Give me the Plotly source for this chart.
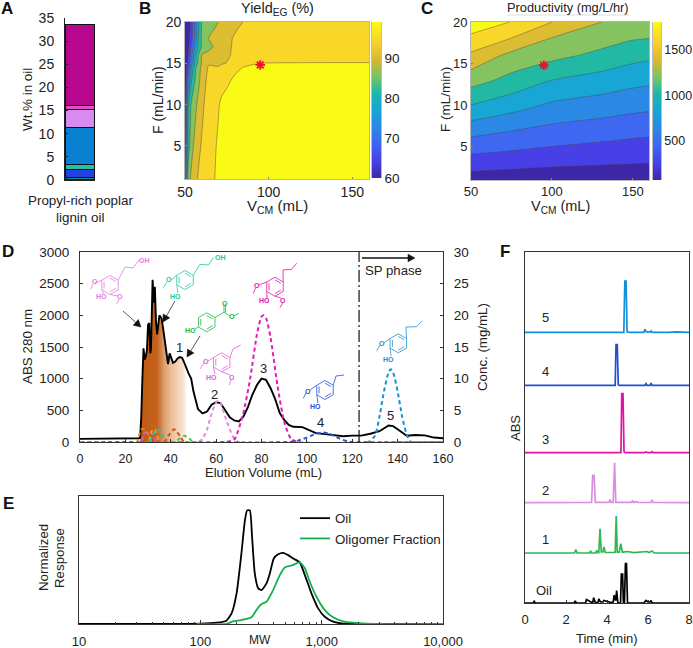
import math
import plotly.graph_objects as go

W, H = 693, 648
FONT = "Liberation Sans, Arial, sans-serif"
INK = "#222222"

# ---------- Panel A ----------
a_names = ["s1", "s2", "s3", "s4", "s5", "s6", "s7", "s8"]
a_values = [0.1, 0.35, 1.9, 0.95, 8.1, 3.8, 0.85, 17.5]
a_colors = ["#F2F20F", "#138A8A", "#2142E0", "#1FC2A5", "#0A80D2", "#D68AF2", "#E24FC4", "#B8078F"]

# ---------- Panel B ----------
b_v = [50, 52, 54, 56, 58, 60, 62, 64, 66, 68, 70, 72, 75, 78, 81, 85, 90, 95, 100, 160]
b_f = [1, 5, 10, 13, 14.5, 15, 16, 17, 18, 20]
b_z = [
    [70, 86.5, 89, 90.8, 92.4, 92.9, 93.3, 94.5, 95.2, 96.1, 96.8, 97, 98, 98, 98, 98, 98, 98, 98, 98],
    [65, 82, 87, 89, 91, 92.4, 93, 94, 95, 95.7, 96.6, 97, 98, 98, 98, 98, 98, 98, 98, 98],
    [62, 80, 85, 87, 89, 91, 92.4, 93, 94, 95, 95.7, 96.8, 97.5, 98, 98, 98, 98, 98, 98, 98],
    [60.5, 72, 80, 84, 87, 89.5, 91.6, 92.8, 93.2, 93.6, 94, 94.5, 95.2, 96.1, 97, 97.5, 97.8, 98, 98, 98],
    [60, 68, 77, 83, 86.5, 88.8, 90.8, 92.3, 92.4, 92.2, 92.2, 93, 94, 94.8, 95.3, 96.1, 96.5, 97, 97.2, 97.2],
    [60, 66, 74, 81, 85, 88.3, 90, 91.7, 91.6, 91.5, 91.5, 91.7, 92.1, 93, 94, 95, 95.7, 96, 96.05, 96.1],
    [60, 64, 71, 79, 84, 88, 89, 89.5, 90, 90.2, 90.5, 90.8, 91.5, 92.2, 93, 94, 94.5, 95, 95, 95],
    [60, 63, 69, 76, 81, 84.5, 85.5, 86.5, 87.6, 88.6, 89.5, 90.2, 91, 92.1, 93, 94, 94.5, 95, 95, 95],
    [60, 62, 67, 73, 80, 84.5, 86.5, 88.1, 88.8, 89.3, 89.8, 90.3, 91, 91.9, 93, 94, 94.5, 95, 95, 95],
    [60, 61, 66, 72, 79, 84.3, 85, 86, 86.6, 87.3, 88.1, 88.6, 89.5, 90.2, 91, 92.1, 93, 93.5, 94, 95],
]
b_ramp = [60, 62, 64, 66, 68, 70, 72, 74, 76, 78, 80, 82, 84, 86, 88, 90, 92, 94, 96, 98, 99]

# ---------- Panel C ----------
c_v = [50, 75, 100, 130, 150, 160]
c_f = [1, 4, 7, 10, 13, 16, 18, 20]
c_z = [
    [155, 140, 126, 128, 130, 130],
    [409, 380, 351, 322, 305, 297],
    [662, 600, 545, 505, 475, 465],
    [936, 840, 739, 688, 650, 636],
    [1185, 1060, 940, 872, 820, 804],
    [1430, 1240, 1168, 1070, 1000, 978],
    [1590, 1455, 1277, 1190, 1125, 1112],
    [1750, 1630, 1462, 1290, 1240, 1230],
]
c_ramp = [70, 150, 250, 350, 450, 550, 650, 750, 850, 950, 1050, 1150, 1250, 1350, 1450, 1550, 1650, 1750, 1808]
star_v, star_fb, star_fc = [95], [14.8], [14.8]

# ---------- Panel D ----------
oil_v = [0, 20, 26, 26.5, 27, 27.5, 28, 28.5, 29, 29.5, 30, 30.5, 31, 31.3, 32, 32.5, 33, 33.5, 34, 35, 36, 37, 38,
         38.8, 39.5, 40, 41, 42, 43, 44, 45, 46, 47, 48, 49, 50, 52, 54, 56, 58, 60, 62, 64, 66, 68, 70, 72, 74,
         76, 78, 80, 82, 84, 86, 88, 90, 92, 94, 98, 100, 104, 108, 112, 116, 120, 124, 128, 132, 136, 138, 140,
         144, 148, 152, 156, 160]
oil_abs = [50, 55, 60, 70, 400, 1000, 1480, 1300, 1350, 1450, 1850, 1880, 1400, 1500, 2560, 2200, 2450, 1900, 1700,
           2000, 1950, 1700, 1450, 1230, 1400, 1350, 1250, 1270, 1320, 1340, 1330, 1250, 1150, 1070, 1000, 800, 520,
           450, 480, 590, 630, 610, 500, 390, 340, 325, 400, 550, 750, 900, 1000, 980, 850, 680, 460, 350, 270, 240,
           235, 200, 140, 125, 105, 90, 100, 100, 130, 170, 260, 250, 200, 100, 110, 105, 70, 60]
fill_end = 47.5
d_series = {
    "c2": ("#E58BE5", [0, 52, 54, 56, 58, 60, 61, 62, 64, 66, 68, 70, 160],
           [0, 0, 0.5, 2, 4.5, 6.3, 6.5, 6.1, 4, 2, 0.5, 0, 0]),
    "c3": ("#E31CB5", [0, 64, 68, 72, 75, 78, 80, 81, 82, 84, 87, 90, 93, 96, 160],
           [0, 0, 0.4, 4.6, 10, 17, 19.8, 20, 19.6, 16.5, 9, 3.2, 0.5, 0, 0]),
    "c4": ("#2257D6", [0, 92, 96, 100, 104, 107, 110, 114, 118, 120, 160],
           [0, 0, 0.2, 0.7, 1.3, 1.5, 1.3, 0.6, 0.1, 0, 0]),
    "c5": ("#1B8FD6", [0, 127, 130, 132, 134, 136, 137, 138, 140, 142, 144, 146, 160],
           [0, 0, 1, 4, 8, 11, 11.5, 11, 8, 4, 1.2, 0, 0]),
    "g1": ("#E8891E", [0, 25, 26, 27, 28.5, 30, 31, 32, 160],
           [0, 0, 1, 2, 2, 1.2, 0.3, 0, 0]),
    "g2": ("#E052D0", [0, 27, 28, 29, 31, 33, 34, 160],
           [0, 0, 1.2, 1.6, 1.6, 0.6, 0, 0]),
    "g3": ("#E8A01E", [0, 30, 31, 32, 33, 34, 35, 160],
           [0, 0, 1, 2, 2, 1, 0, 0]),
    "g4": ("#22C4A4", [0, 30, 32, 34, 36, 38, 160],
           [0, 0, 1, 2, 1.4, 0, 0]),
    "g5": ("#D0522A", [0, 37, 39, 41.5, 44, 46, 160],
           [0, 0, 1, 2, 1, 0, 0]),
    "g6": ("#4FC04F", [0, 42, 44, 46, 48, 50, 160],
           [0, 0, 0.6, 1, 0.6, 0, 0]),
}

# ---------- Panel E ----------
e_oil_mw = [10, 99, 136, 164, 181, 199, 218, 233, 243, 256, 267, 281, 300, 319, 351, 374, 403, 438, 481, 530, 582,
            660, 727, 824, 935, 1061, 1243, 1502, 2337, 10000]
e_oil = [0, 0.003, 0.01, 0.026, 0.083, 0.239, 0.55, 0.81, 0.888, 0.888, 0.68, 0.395, 0.278, 0.265, 0.317, 0.395,
         0.512, 0.545, 0.556, 0.538, 0.512, 0.481, 0.382, 0.239, 0.122, 0.057, 0.018, 0.003, 0, 0]
e_olig_mw = [93, 164, 186, 218, 264, 290, 319, 351, 398, 452, 497, 564, 660, 727, 798, 906, 1061, 1243, 1502, 1816,
             2655, 10000]
e_olig = [0, 0, 0.021, 0.031, 0.052, 0.109, 0.156, 0.174, 0.265, 0.382, 0.442, 0.457, 0.481, 0.436, 0.33, 0.213,
          0.109, 0.052, 0.021, 0.01, 0, 0]

# ---------- Panel F ----------
f_series = [
    ("Oil", "#000000", 0.0,
     [0, 0.4, 0.45, 0.5, 2.4, 2.45, 2.5, 2.95, 3.0, 3.1, 3.3, 3.35, 3.42, 3.55, 3.6, 3.68, 3.8, 3.85, 4.2, 4.3, 4.35, 4.4, 4.43, 4.47, 4.53, 4.66, 4.7, 4.76, 4.8, 4.85, 4.9, 4.95, 5.0, 5.8, 5.9, 6.0, 6.1, 6.15, 6.2, 8],
     [0, 0, 1.6, 0, 0, 2, 0, 0, 3.5, 2.5, 0, 5.3, 1, 0, 4, 1, 1, 2.5, 0.5, 1, 8, 3, 3, 12.5, 0, 0, 29, 29, 0, 0, 39.3, 39.3, 0, 0, 2.5, 1, 1, 2.5, 0, 0]),
    ("1", "#2FB850", 50.0,
     [0, 2.42, 2.48, 2.54, 3.15, 3.2, 3.25, 3.45, 3.5, 3.55, 3.6, 3.66, 3.72, 3.8, 3.85, 3.92, 4.3, 4.4, 4.45, 4.5, 4.6, 4.67, 4.75, 5.0, 5.3, 5.95, 6.05, 6.2, 6.3, 8],
     [0, 0, 3.6, 0, 0, 2, 0, 0, 2.7, 0.3, 0.3, 24.3, 1, 1, 6, 0.5, 0.5, 0.8, 37, 0.8, 0.8, 9.3, 0.8, 1.5, 0.4, 1.5, 0.5, 2, 0, 0]),
    ("2", "#D88FE0", 100.3,
     [0, 2.4, 3.25, 3.3, 3.37, 3.43, 4.1, 4.15, 4.2, 4.3, 4.37, 4.43, 5.2, 5.25, 5.3, 5.45, 5.5, 6.15, 6.2, 6.25, 8],
     [0, 0.2, 0.2, 27.3, 27.3, 0.3, 0.3, 3.3, 0.3, 0.3, 40, 0.3, 0.3, 2.3, 0.3, 1, 0.2, 0.2, 3, 0.2, 0],
     ),
    ("3", "#E010A8", 150.3,
     [0, 4.68, 4.72, 4.78, 4.83, 4.9, 5.8, 5.9, 6.0, 6.15, 6.2, 6.25, 8],
     [0, 0, 59, 59, 1, 0, 0, 0.7, 0, 0, 1, 0, 0]),
    ("4", "#1E50D0", 217.7,
     [0, 4.4, 4.44, 4.5, 4.55, 4.6, 5.85, 5.9, 5.95, 6.1, 6.15, 6.2, 8],
     [0, 0, 40.7, 40.7, 0.5, 0, 0, 1.7, 0, 0, 2.3, 0, 0]),
    ("5", "#1090D8", 270.7,
     [0, 4.82, 4.87, 4.93, 4.98, 5.1, 5.8, 5.85, 5.92, 6.1, 6.15, 6.2, 7, 7.4, 8],
     [0, 0, 51.3, 51.3, 0.5, 0, 0, 3, 0.5, 0.5, 1.3, 0, 0, 0.5, 0]),
]

PARULA = [
    [0.00, "#3E26A8"], [0.11, "#4640E6"], [0.22, "#3E66F2"], [0.33, "#2A88E4"], [0.44, "#18A6D6"],
    [0.55, "#1CB8A8"], [0.65, "#74C666"], [0.75, "#D2B632"], [0.85, "#F7CA30"], [1.00, "#F9FB15"],
]


def fx(x):
    return x / W


def fy(y):
    return 1 - y / H


def dom_x(a, b):
    return [fx(a), fx(b)]


def dom_y(top, bottom):
    return [fy(bottom), fy(top)]


fig = go.Figure()
base = dict(tickfont=dict(family=FONT, size=13.5, color=INK), showgrid=False, zeroline=False)

# ---- A
for name, val, col in zip(a_names, a_values, a_colors):
    fig.add_trace(go.Bar(x=["oil"], y=[val], name=name, width=0.96, marker=dict(color=col, line=dict(color="#111", width=1)),
                         showlegend=False, xaxis="x", yaxis="y"))

# ---- B
fig.add_trace(go.Contour(x=b_v, y=b_f, z=b_z, colorscale=PARULA, zmin=60, zmax=100, showscale=False,
                         contours=dict(start=64, end=96, size=4, coloring="fill"),
                         line=dict(color="rgba(90,80,60,0.7)", width=0.7, smoothing=0.6), xaxis="x2", yaxis="y2"))
fig.add_trace(go.Scatter(x=star_v, y=star_fb, mode="markers", showlegend=False, xaxis="x2", yaxis="y2",
                         marker=dict(symbol="asterisk-open", size=8, color="#E8102A", line=dict(color="#E8102A", width=1.8))))
fig.add_trace(go.Heatmap(x=[0], y=b_ramp, z=[[v] for v in b_ramp], colorscale=PARULA, zmin=60, zmax=99, zsmooth="best",
                         showscale=False, xaxis="x8", yaxis="y8"))

# ---- C
fig.add_trace(go.Contour(x=c_v, y=c_f, z=c_z, colorscale=PARULA, zmin=70, zmax=1810, showscale=False,
                         contours=dict(start=244, end=1636, size=174, coloring="fill"),
                         line=dict(color="rgba(70,70,70,0.6)", width=0.7, smoothing=0.8), xaxis="x3", yaxis="y3"))
fig.add_trace(go.Scatter(x=star_v, y=star_fc, mode="markers", showlegend=False, xaxis="x3", yaxis="y3",
                         marker=dict(symbol="asterisk-open", size=8, color="#E8102A", line=dict(color="#E8102A", width=1.8))))
fig.add_trace(go.Heatmap(x=[0], y=c_ramp, z=[[v] for v in c_ramp], colorscale=PARULA, zmin=70, zmax=1808, zsmooth="best",
                         showscale=False, xaxis="x9", yaxis="y9"))

# ---- D
fill_idx = [i for i, v in enumerate(oil_v) if 26.5 <= v <= fill_end]
fig.add_trace(go.Scatter(x=[oil_v[i] for i in fill_idx], y=[oil_abs[i] for i in fill_idx], mode="none", fill="tozeroy",
                         fillgradient=dict(type="horizontal", start=26.5, stop=fill_end,
                                           colorscale=[[0, "#BF5A12"], [0.355, "#C4621C"], [0.51, "#DDA070"],
                                                       [0.66, "#EDBE98"], [0.89, "#F8E0CC"], [1, "#FFFFFF"]]),
                         showlegend=False, xaxis="x4", yaxis="y4"))
for key, (col, xs, ys) in d_series.items():
    fig.add_trace(go.Scatter(x=xs, y=ys, mode="lines", name=key, showlegend=False, xaxis="x4", yaxis="y7",
                             line=dict(color=col, width=2, dash="4px,3px", shape="spline", smoothing=0.6)))
fig.add_trace(go.Scatter(x=oil_v, y=oil_abs, mode="lines", showlegend=False, xaxis="x4", yaxis="y4",
                         line=dict(color="#000", width=1.9)))
fig.add_shape(type="line", x0=123, x1=123, y0=0, y1=3000, xref="x4", yref="y4",
              line=dict(color="#111", width=1.2, dash="12px,3px,2px,3px"))

# ---- E
fig.add_trace(go.Scatter(x=e_oil_mw, y=e_oil, mode="lines", name="Oil", xaxis="x5", yaxis="y5",
                         line=dict(color="#000", width=1.8, shape="spline", smoothing=0.5)))
fig.add_trace(go.Scatter(x=e_olig_mw, y=e_olig, mode="lines", name="Oligomer Fraction", xaxis="x5", yaxis="y5",
                         line=dict(color="#12B050", width=1.8, shape="spline", smoothing=0.5)))

# ---- F
for name, col, off, ts, hs in f_series:
    fig.add_trace(go.Scatter(x=ts, y=[off + h for h in hs], mode="lines", name=name, showlegend=False, xaxis="x6",
                             yaxis="y6", line=dict(color=col, width=1.7)))

inside = dict(ticks="inside", ticklen=3, tickwidth=0.8)
fig.update_layout(
    template="none",
    width=W, height=H, autosize=False, margin=dict(l=0, r=0, t=0, b=0, pad=0), paper_bgcolor="white", plot_bgcolor="white",
    barmode="stack", font=dict(family=FONT, color=INK),
    legend=dict(x=fx(295), y=fy(503), xanchor="left", yanchor="top", bgcolor="rgba(0,0,0,0)", itemwidth=30,
                font=dict(family=FONT, size=13.3, color=INK), tracegroupgap=0, traceorder="normal"),
    xaxis=dict(domain=dom_x(65, 95), showticklabels=False, ticks="", showline=True, linecolor="#222", linewidth=1, **{k: v for k, v in base.items() if k != "tickfont"}),
    yaxis=dict(domain=dom_y(18, 180), range=[0, 35], dtick=5, showline=True, linecolor="#222", linewidth=1, tickcolor="#222", ticklabelstandoff=7,
               **inside, **{**base, "tickfont": dict(family=FONT, size=14, color=INK)}),
    xaxis2=dict(domain=dom_x(185, 369), anchor="y2", range=[50, 160], tickvals=[50, 100, 150], showline=True, mirror=True,
                linecolor="#b5b5b5", linewidth=0.7, ticklen=2, ticks="inside", tickcolor="#888",
                **{**base, "tickfont": dict(family=FONT, size=14, color=INK)}),
    yaxis2=dict(domain=dom_y(22, 179), anchor="x2", range=[1, 20], tickvals=[5, 10, 15, 20], showline=True, mirror=True,
                linecolor="#b5b5b5", linewidth=0.7, ticklen=2, ticks="inside", tickcolor="#888",
                **{**base, "tickfont": dict(family=FONT, size=14, color=INK)}),
    xaxis8=dict(domain=dom_x(372, 381), anchor="y8", visible=False),
    yaxis8=dict(domain=dom_y(22, 178), anchor="x8", side="right", range=[60, 99], tickvals=[60, 70, 80, 90], ticks="",
                showline=True, mirror=True, linecolor="#bbb", linewidth=0.6,
                **{**base, "tickfont": dict(family=FONT, size=13.5, color=INK)}),
    xaxis3=dict(domain=dom_x(471, 649), anchor="y3", range=[50, 160], tickvals=[50, 100, 150], showline=True, mirror=True,
                linecolor="#b5b5b5", linewidth=0.7, ticklen=2, ticks="inside", tickcolor="#888",
                **{**base, "tickfont": dict(family=FONT, size=13, color=INK)}),
    yaxis3=dict(domain=dom_y(22, 180), anchor="x3", range=[1, 20], tickvals=[5, 10, 15, 20], showline=True, mirror=True,
                linecolor="#b5b5b5", linewidth=0.7, ticklen=2, ticks="inside", tickcolor="#888",
                **{**base, "tickfont": dict(family=FONT, size=13, color=INK)}),
    xaxis9=dict(domain=dom_x(653, 661), anchor="y9", visible=False),
    yaxis9=dict(domain=dom_y(22, 180), anchor="x9", side="right", range=[70, 1808], tickvals=[500, 1000, 1500], ticks="",
                showline=True, mirror=True, linecolor="#bbb", linewidth=0.6,
                **{**base, "tickfont": dict(family=FONT, size=12.5, color=INK)}),
    xaxis4=dict(domain=dom_x(80, 443), anchor="y4", range=[0, 160], dtick=20, showline=True, mirror=True, linecolor="#333", ticklabelstandoff=5,
                linewidth=1, tickcolor="#333", **inside, **{**base, "tickfont": dict(family=FONT, size=12.5, color=INK)}),
    yaxis4=dict(domain=dom_y(252, 442), anchor="x4", range=[0, 3000], dtick=500, showline=True, linecolor="#333", ticklabelstandoff=7,
                linewidth=1, tickcolor="#333", **inside, **base),
    yaxis7=dict(domain=dom_y(252, 442), anchor="x4", overlaying="y4", side="right", range=[0, 30], dtick=5, showline=True, ticklabelstandoff=7,
                linecolor="#333", linewidth=1, tickcolor="#333", **inside, **base),
    xaxis5=dict(domain=dom_x(79, 443), anchor="y5", type="log", range=[1, 4], tickvals=[10, 100, 1000, 10000], ticklabelstandoff=5,
                ticktext=["10", "100", "1,000", "10,000"], showline=True, mirror=True, linecolor="#333", linewidth=1,
                tickcolor="#333", ticks="inside", ticklen=4, tickwidth=0.8,
                minor=dict(ticks="inside", ticklen=2.5, tickcolor="#333", tickwidth=0.7,
                           tickvals=[20, 30, 40, 50, 60, 70, 80, 90, 200, 300, 400, 500, 600, 700, 800, 900,
                                     2000, 3000, 4000, 5000, 6000, 7000, 8000, 9000]),
                **{**base, "tickfont": dict(family=FONT, size=13, color=INK)}),
    yaxis5=dict(domain=dom_y(496, 624), anchor="x5", range=[0, 1], showticklabels=False, ticks="", showline=True, mirror=True,
                linecolor="#333", linewidth=1, showgrid=False, zeroline=False),
    xaxis6=dict(domain=dom_x(525, 689), anchor="y6", range=[0, 8], dtick=2, showline=True, mirror=True, linecolor="#333", ticklabelstandoff=4,
                linewidth=1, tickcolor="#333", **inside, **{**base, "tickfont": dict(family=FONT, size=13, color=INK)}),
    yaxis6=dict(domain=dom_y(252, 603), anchor="x6", range=[0, 351], showticklabels=False, ticks="", showline=True, mirror=True,
                linecolor="#333", linewidth=1, showgrid=False, zeroline=False),
)


def note(x, y, text, size=13, color=INK, angle=0, bold=False, anchor="center"):
    fig.add_annotation(x=fx(x), y=fy(y), xref="paper", yref="paper", text=f"<b>{text}</b>" if bold else text,
                       showarrow=False, textangle=angle, xanchor=anchor, yanchor="middle", align="center",
                       font=dict(family=FONT, size=size, color=color))


def arrow(x0, y0, x1, y1, width=1.0, head=7.0):
    d = math.hypot(x1 - x0, y1 - y0)
    ux, uy = (x1 - x0) / d, (y1 - y0) / d
    bx, by = x1 - ux * head, y1 - uy * head
    fig.add_shape(type="line", x0=fx(x0), y0=fy(y0), x1=fx(bx), y1=fy(by), xref="paper", yref="paper",
                  line=dict(color="#111", width=width))
    hw = head * 0.55
    corners = [(x1, y1), (bx - uy * hw, by + ux * hw), (bx + uy * hw, by - ux * hw)]
    path = "M" + " L".join(f"{fx(x):.5f} {fy(y):.5f}" for x, y in corners) + " Z"
    fig.add_shape(type="path", path=path, xref="paper", yref="paper", fillcolor="#111", line=dict(color="#111", width=0.5))


# panel letters
for ch, x, y in [("A", 7, 8), ("B", 145, 8), ("C", 427, 8), ("D", 8, 252), ("E", 8, 503), ("F", 505, 251)]:
    note(x, y, ch, size=17, bold=True, color="#111")

# axis and panel text
note(27, 100, "Wt.% in oil", size=13.4, angle=-90)
note(80, 200, "Propyl-rich poplar", size=13.4)
note(80, 217, "lignin oil", size=13.4)
note(277, 9, "Yield<sub>EG</sub> (%)", size=14.5)
note(277, 206, "V<sub>CM</sub> (mL)", size=15)
note(158, 100, "F (mL/min)", size=14, angle=-90)
note(568, 7, "Productivity (mg/L/hr)", size=12.8)
note(560, 207, "V<sub>CM</sub> (mL)", size=14.5)
note(445, 100, "F (mL/min)", size=13.5, angle=-90)
fig.add_shape(type="line", x0=fx(507), x1=fx(630), y0=fy(15), y1=fy(15), xref="paper", yref="paper",
              line=dict(color="#dddddd", width=1))
note(27, 347, "ABS 280 nm", size=13.4, angle=-90)
note(482, 347, "Conc. (mg/mL)", size=13.3, angle=-90)
note(263, 472, "Elution Volume (mL)", size=13)
note(393, 270, "SP phase", size=13.2)
arrow(362, 258, 415, 258, width=1.6)
for t, x, y in [("1", 180, 347), ("2", 214, 394), ("3", 263, 368), ("4", 320, 422), ("5", 391, 415)]:
    note(x, y, t, size=13)
arrow(123, 311, 141, 327, width=0.7)
arrow(175, 301, 163, 322, width=0.7)
arrow(200, 336, 187, 357, width=0.7)
note(43, 558, "Normalized", size=13.3, angle=-90)
note(59, 558, "Response", size=13.3, angle=-90)
note(260, 640, "MW", size=12)
note(515, 428, "ABS", size=13, angle=-90)
note(607, 638, "Time (min)", size=13)
for t, y in [("5", 317), ("4", 371), ("3", 439), ("2", 490), ("1", 539)]:
    note(545, y, t, size=13)
note(544, 590, "Oil", size=13)


# molecule sketches
def ring(cx, cy, r):
    return [(cx + r * math.cos(math.radians(a)), cy + r * math.sin(math.radians(a))) for a in (-90, -30, 30, 90, 150, 210)]


def molecule(cx, cy, color, bonds, labels, r=9.5):
    v = ring(cx, cy, r)
    pts = [v + [v[0]]]
    for k in (0, 2, 4):
        a, b = v[k], v[(k + 1) % 6]
        pts.append([(cx + (a[0] - cx) * 0.72, cy + (a[1] - cy) * 0.72), (cx + (b[0] - cx) * 0.72, cy + (b[1] - cy) * 0.72)])
    for idx, seq in bonds:
        pts.append(([v[idx]] if idx is not None else []) + seq)
    path = ""
    for seq in pts:
        path += "M" + " L".join(f"{fx(x):.5f} {fy(y):.5f}" for x, y in seq) + " "
    fig.add_shape(type="path", path=path, xref="paper", yref="paper", line=dict(color=color, width=0.8))
    for x, y, t in labels:
        note(x, y, t, size=7, color=color, bold=True)


molecule(110, 285, "#E57BE0",
         [(1, [(125, 267), (133, 268), (139, 260)]), (5, [(95, 283)]), (None, [(93, 284), (90.7, 289)]),
          (4, [(104, 294)]), (3, [(118, 296)]), (None, [(119, 299), (116.7, 304)])],
         [(144, 260, "OH"), (95, 282, "O"), (101.7, 297, "HO"), (120, 297, "O")])
molecule(185, 280, "#20C8A0",
         [(1, [(200, 264.3), (208.3, 265), (213.3, 257.7)]), (5, [(171, 280)]), (None, [(167, 282), (163.3, 287.7)]),
          (4, [(178, 293)])],
         [(220, 257.3, "OH"), (169, 280, "O"), (175, 296, "HO")])
molecule(206.7, 322.3, "#20B84A",
         [(1, [(224, 312.3), (224, 304.5)]), (None, [(225.5, 312.3), (225.5, 304.5)]), (None, [(224, 312.3), (230, 316)]),
          (None, [(233.5, 316), (239, 313.3)]), (4, [(195, 329)])],
         [(190.7, 330.3, "HO"), (224.5, 303, "O"), (231.7, 316.7, "O")])
molecule(221.7, 362.3, "#E060E0",
         [(1, [(233, 349), (240.7, 345)]), (5, [(208, 361)]), (None, [(204, 363), (200, 369)]),
          (4, [(215, 374)]), (3, [(230, 375)]), (None, [(231, 380), (229.3, 385)])],
         [(206, 361.7, "O"), (211.7, 377.3, "HO"), (232.3, 377.7, "O")])
molecule(275, 286.7, "#E010B0",
         [(1, [(283, 270), (291.7, 269.3), (296.7, 263.3)]), (5, [(259, 285)]), (None, [(255.5, 288), (253.3, 293.3)]),
          (4, [(267, 298)]), (3, [(281, 298)]), (None, [(282.5, 303), (280, 307.7)])],
         [(257.3, 285.7, "O"), (264, 300.7, "HO"), (283.3, 300.7, "O")])
molecule(325, 390, "#2050E0",
         [(1, [(336, 376), (344, 375)]), (5, [(310, 390)]), (None, [(306, 393), (303.3, 398.3)]), (4, [(318, 403)])],
         [(308.3, 391, "O"), (315.7, 406.7, "HO")])
molecule(398.3, 343.3, "#1E90D0",
         [(1, [(406, 327), (416.7, 326.7), (422.3, 320.7)]), (5, [(384, 343)]), (None, [(380, 345), (376.7, 350.7)]),
          (4, [(391, 356)])],
         [(381.7, 343.3, "O"), (388.3, 359, "HO")])

fig.write_html("out.html", config={"displayModeBar": False}, post_script="document.body.style.margin='0';")
